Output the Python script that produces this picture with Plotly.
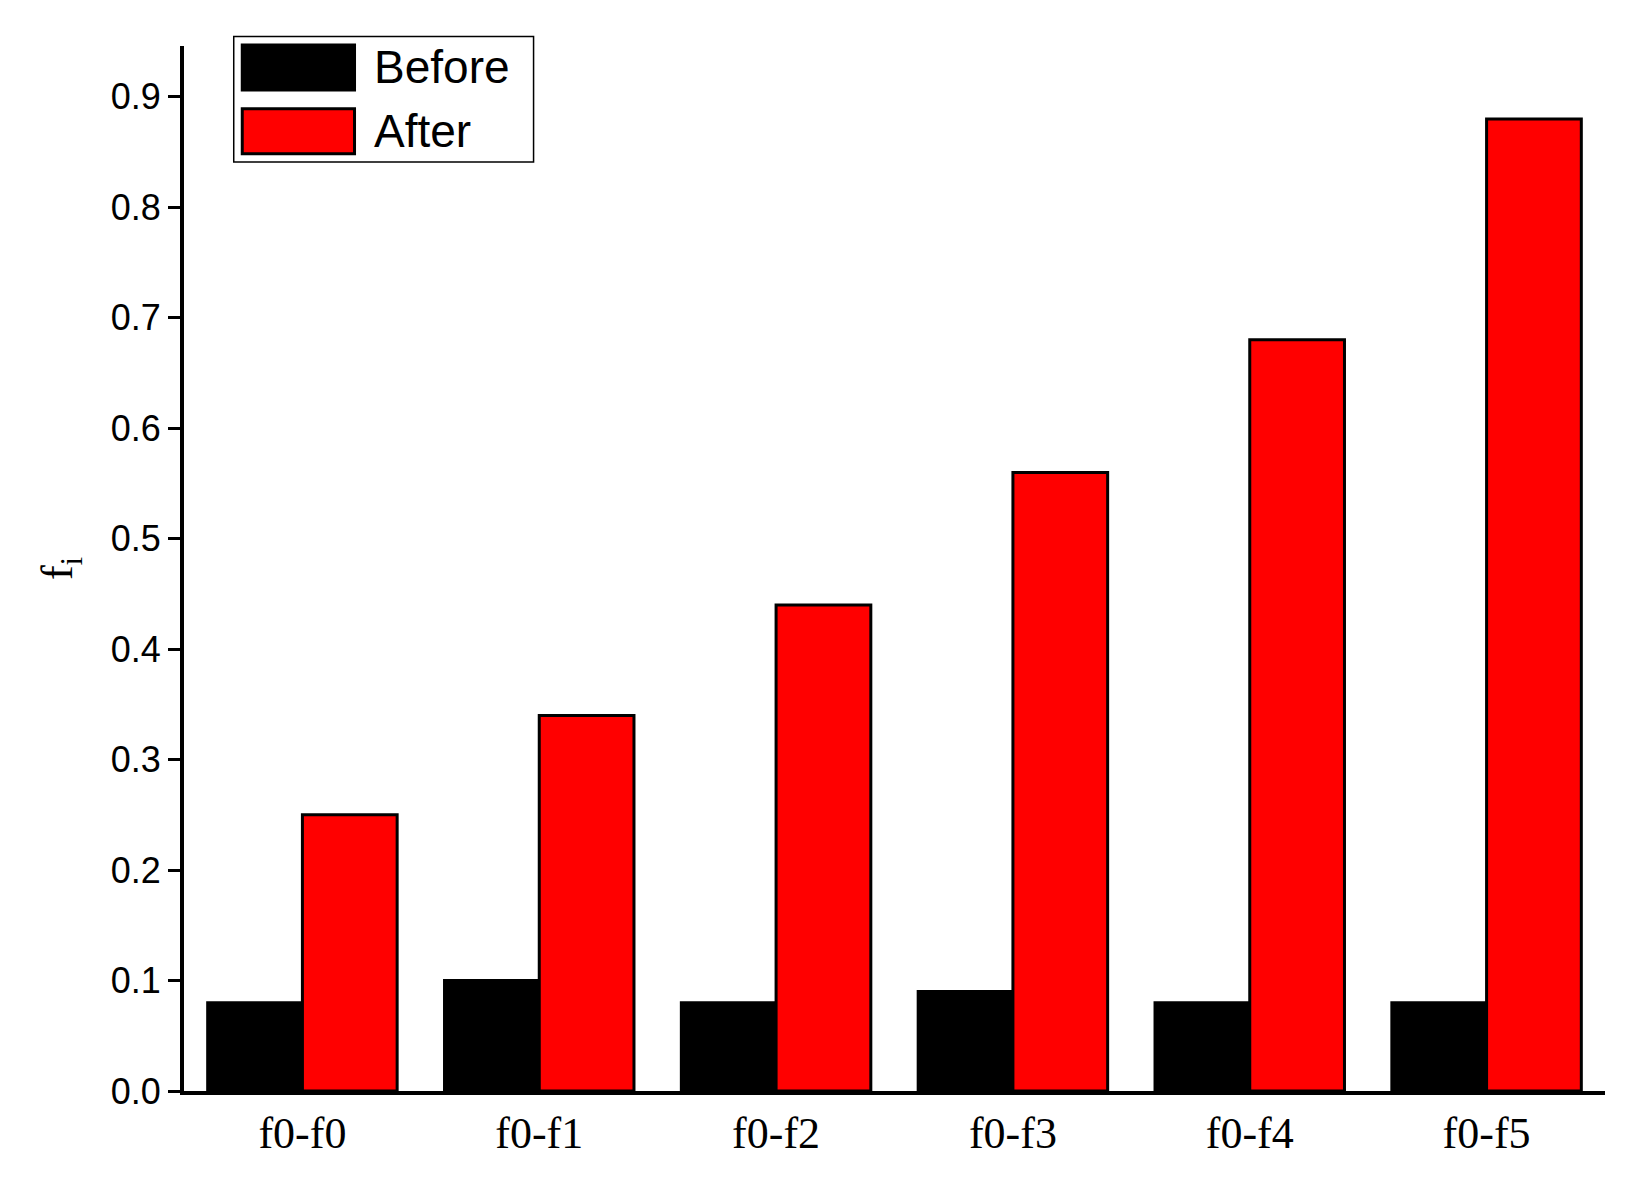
import plotly.graph_objects as go

categories = ["f0-f0", "f0-f1", "f0-f2", "f0-f3", "f0-f4", "f0-f5"]
before = [0.08, 0.10, 0.08, 0.09, 0.08, 0.08]
after = [0.25, 0.34, 0.44, 0.56, 0.68, 0.88]
yticks = [0.0, 0.1, 0.2, 0.3, 0.4, 0.5, 0.6, 0.7, 0.8, 0.9]
series_names = ["Before", "After"]
series_colors = ["black", "#ff0000"]

fig = go.Figure()
fig.add_bar(x=categories, y=before, name=series_names[0], marker=dict(color=series_colors[0], line=dict(color="black", width=3)))
fig.add_bar(x=categories, y=after, name=series_names[1], marker=dict(color=series_colors[1], line=dict(color="black", width=3)))

# custom legend
fig.add_shape(type="rect", xref="paper", yref="paper", x0=0.035, x1=0.246, y0=0.889, y1=1.009,
              line=dict(color="black", width=1.5), fillcolor="white")
sw = [(0.958, 1.001, 0.980), (0.897, 0.940, 0.919)]
for (y0, y1, yc), nm, col in zip(sw, series_names, series_colors):
    fig.add_shape(type="rect", xref="paper", yref="paper", x0=0.041, x1=0.120, y0=y0, y1=y1,
                  line=dict(color="black", width=3), fillcolor=col)
    fig.add_annotation(text=nm, xref="paper", yref="paper", x=0.1325, y=yc, xanchor="left", yanchor="middle",
                       showarrow=False, font=dict(family="Liberation Sans", size=46, color="black"))

fig.update_layout(
    width=1633, height=1191, barmode="group", bargap=0.2, bargroupgap=0,
    plot_bgcolor="white", paper_bgcolor="white", showlegend=False,
    margin=dict(l=176, r=36, t=38, b=108),
    xaxis=dict(showline=True, linecolor="black", linewidth=4, ticks="",
               tickfont=dict(family="Liberation Serif", size=44, color="black")),
    yaxis=dict(range=[0, 0.946], tickvals=yticks, ticktext=[f"{v:.1f}" for v in yticks],
               showline=True, linecolor="black", linewidth=4, ticks="outside", ticklen=12, tickwidth=3,
               tickcolor="black", showgrid=False, zeroline=False,
               tickfont=dict(family="Liberation Sans", size=36, color="black"),
               title=dict(text="f<sub>i</sub>", font=dict(family="Liberation Serif", size=44, color="black"), standoff=25)),
)
fig.write_html("out.html")
